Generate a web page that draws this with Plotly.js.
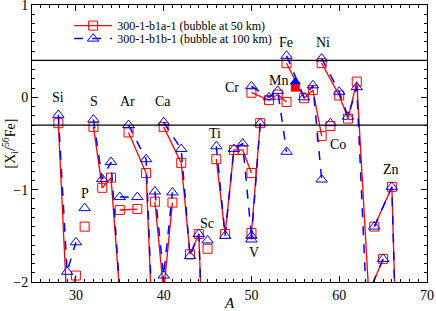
<!DOCTYPE html>
<html>
<head>
<meta charset="utf-8">
<script src="https://cdn.plot.ly/plotly-3.0.1.min.js"></script>
<style>html,body{margin:0;padding:0;background:#fff;}#chart{width:436px;height:311px;}</style>
</head>
<body>
<div id="chart"></div>
<script>
// Elements and their stable isotopes (mass numbers)
const elements = ["Si","P","S","Cl","Ar","K","Ca","Sc","Ti","V","Cr","Fe","Co","Ni","Cu","Zn"];
const massNumbers = [
  [28,29,30],[31],[32,33,34,36],[35,37],[36,38,40],[39,40,41],[40,42,43,44,46,48],[45],
  [46,47,48,49,50],[50,51],[50,52,53,54],[54,56,57,58],[59],[58,60,61,62,64],[63,65],[64,66,67,68,70]
];
// [X_i/56Fe] for model 300-1-b1a-1 (bubble at 50 km)
const b1a = [
  [-0.28,-2.28,-1.93],[-1.40],[-0.32,-0.98,-0.87,-3.4],[-1.22,-1.21],[-0.38,-0.82,-5.5],
  [-1.13,-2.1,-1.14],[-0.32,-0.71,-1.70,-1.48,-6.7,-6.0],[-1.64],
  [-0.67,-1.48,-0.57,-0.57,-0.82],[-1.47,-0.28],[0.05,-0.03,0.03,-0.05],[0.37,-0.01,0.08,-0.42],
  [-0.31],[0.37,0.02,-0.23,0.17,-3.2],[-2.2,-1.75],[-1.40,-0.97,-4.4,-4.5,-6.0]
];
// [X_i/56Fe] for model 300-1-b1b-1 (bubble at 100 km)
const b1b = [
  [-0.19,-1.89,-1.57],[-1.20],[-0.24,-0.885,-0.70,-3.5],[-1.08,-1.08],[-0.30,-0.67,-5.5],
  [-1.02,-1.93,-1.03],[-0.27,-0.56,-1.72,-1.48,-6.7,-6.0],[-1.55],
  [-0.53,-1.50,-0.56,-0.50,-1.50],[-1.54,-0.28],[0.12,0.00,0.07,-0.59],[0.45,0.00,0.13,-0.89],
  [-0.28],[0.42,0.06,-0.21,0.11,-4.1],[-2.2,-1.75],[-1.40,-0.97,-4.4,-4.5,-6.0]
];
// Mn (A=55), drawn with filled symbols
const mnA = [55];
const mnB1a = [0.11];
const mnB1b = [0.17];
// Reference levels
const refLevels = [0.4, -0.3];
// Element labels and their anchor points (A, value)
const labelText = ["Si","S","Ar","Ca","P","Ti","Sc","V","Cr","Mn","Fe","Ni","Co","Zn"];
const labelA = [28.0,32.1,35.9,39.9,31.0,45.9,44.9,50.3,47.8,53.1,53.9,58.2,59.9,65.9];
const labelY = [0.0,-0.05,-0.05,-0.05,-1.04,-0.39,-1.37,-1.68,0.11,0.18,0.59,0.59,-0.51,-0.78];

function flatten(groups) {
  const out = [];
  groups.forEach((g, i) => { g.forEach(v => out.push(v)); if (i < groups.length - 1) out.push(null); });
  return out;
}
const xs = flatten(massNumbers);
const ya = flatten(b1a);
const yb = flatten(b1b);

const FONT = "Liberation Serif";
const RED = "#ff0000";
const BLUE = "#0000ff";

const traces = [
  {x: xs, y: ya, name: "300-1-b1a-1 (bubble at 50 km)", mode: "lines+markers", connectgaps: false, legend: "legend",
   line: {color: RED, width: 1.3}, marker: {symbol: "square-open", size: 9, color: RED, line: {width: 1, color: RED}}},
  {x: xs, y: yb, name: "300-1-b1b-1 (bubble at 100 km)", mode: "lines+markers", connectgaps: false, legend: "legend2",
   line: {color: BLUE, width: 1.5, dash: "dash"}, marker: {symbol: "triangle-up-open", size: 10, color: BLUE, line: {width: 1, color: BLUE}}},
  {x: mnA, y: mnB1a, mode: "markers", showlegend: false, marker: {symbol: "square", size: 9, color: RED}},
  {x: mnA, y: mnB1b, mode: "markers", showlegend: false, marker: {symbol: "triangle-up", size: 10, color: BLUE}}
];

const annotations = labelText.map((t, i) => ({
  x: labelA[i], y: labelY[i], xref: "x", yref: "y", text: t, showarrow: false,
  font: {family: FONT, size: 14, color: "#000"}
}));

const axisCommon = {
  showline: true, linecolor: "#000", linewidth: 1, mirror: "allticks",
  ticks: "inside", ticklen: 6, tickwidth: 1, tickcolor: "#000",
  showgrid: false, zeroline: false, ticklabeloverflow: "allow",
  tickfont: {family: FONT, size: 14, color: "#000"}
};

const legendCommon = {x: 0.094, xanchor: "left", yanchor: "top", bgcolor: "rgba(0,0,0,0)",
  font: {family: FONT, size: 12, color: "#000"}, itemwidth: 38};

const layout = {
  width: 436, height: 311,
  margin: {l: 32, r: 9, t: 5, b: 29},
  paper_bgcolor: "#fff", plot_bgcolor: "#fff",
  font: {family: FONT, color: "#000"},
  showlegend: true,
  legend: Object.assign({}, legendCommon, {y: 0.978}),
  legend2: Object.assign({}, legendCommon, {y: 0.931}),
  xaxis: Object.assign({}, axisCommon, {
    range: [25, 70], dtick: 10, tick0: 0,
    minor: {dtick: 1, ticks: "inside", ticklen: 3, tickcolor: "#000", showgrid: false},
    title: {text: "<i>A</i>", font: {family: FONT, size: 15, color: "#000"}, standoff: 4}
  }),
  yaxis: Object.assign({}, axisCommon, {
    range: [-2, 1], dtick: 1, tick0: 0,
    minor: {dtick: 0.1, ticks: "inside", ticklen: 3, tickcolor: "#000", showgrid: false},
    title: {text: "[X<sub>i</sub>/<sup>56</sup>Fe]", font: {family: FONT, size: 14, color: "#000"}, standoff: 2}
  }),
  shapes: refLevels.map(v => ({type: "line", xref: "paper", x0: 0, x1: 1, yref: "y", y0: v, y1: v,
    line: {color: "#000", width: 1.3}})),
  annotations: annotations
};

Plotly.newPlot("chart", traces, layout, {displayModeBar: false, staticPlot: true});
</script>
</body>
</html>
